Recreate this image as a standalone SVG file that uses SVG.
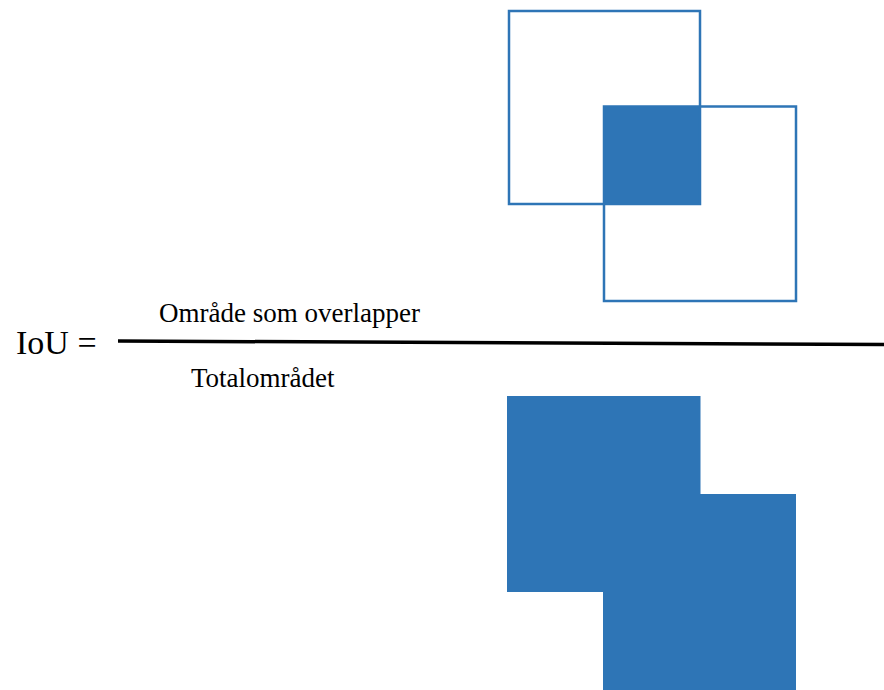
<svg xmlns="http://www.w3.org/2000/svg" width="884" height="690" viewBox="0 0 884 690">
<style>
.t{font-family:"Liberation Serif","Times New Roman",serif;fill:#000}
.box{fill:none;stroke:#2E75B6;stroke-width:2.5}
.fill{fill:#2E75B6}
</style>
<rect width="884" height="690" fill="#fff"/>
<g id="overlap-diagram">
<rect class="fill" x="603.5" y="106" width="97" height="98"/>
<rect class="box" x="509" y="11" width="191" height="193"/>
<rect class="box" x="604" y="106.5" width="192" height="194.5"/>
</g>
<g id="union-diagram">
<path class="fill" d="M507 396H700.5V494H796V690H603V592H507Z"/>
</g>
<g id="formula">
<text class="t" x="16" y="354" font-size="34">IoU =</text>
<text class="t" x="159" y="322" font-size="27">Område som overlapper</text>
<text class="t" x="191" y="387" font-size="27">Totalområdet</text>
</g>
<g id="connectors">
<line x1="118" y1="341" x2="884" y2="344.5" stroke="#000" stroke-width="3.5"/>
</g>
</svg>
